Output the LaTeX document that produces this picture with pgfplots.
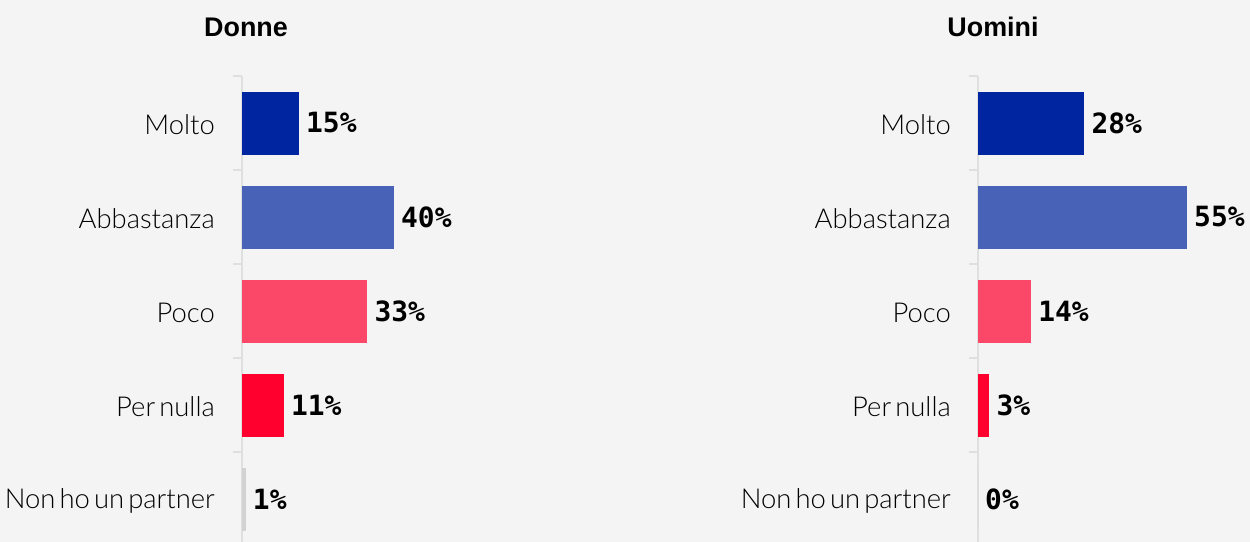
\documentclass[border=0pt]{standalone}
\usepackage{pgfplots}
\pgfplotsset{compat=1.18}
\usepackage{fontspec}
\setmainfont{Liberation Sans}
\setmonofont{DejaVu Sans Mono}
\newfontfamily\lightfont{Lato}[UprightFont=* Light]
\protected\def\lblfont{\lightfont\fontsize{27.5}{30}\selectfont\spaceskip=0.15em\relax}
\definecolor{bg}{HTML}{F4F4F4}
\definecolor{c1}{HTML}{0025A0}
\definecolor{c2}{HTML}{4862B7}
\definecolor{c3}{HTML}{FB4868}
\definecolor{c4}{HTML}{FF002E}
\definecolor{c5}{HTML}{D2D2D2}
\definecolor{axisgray}{HTML}{DFDFDF}

\pgfplotsset{
  panel/.style={
    xbar, bar shift=0pt, bar width=63bp,
    scale only axis, width=228bp, height=466bp,
    xmin=0, xmax=60, ymin=-0.5, ymax=4.457, y dir=reverse,
    axis x line=none, axis y line*=left,
    y axis line style={draw=axisgray, line width=1.2bp},
    ytick={0,...,4},
    yticklabels={Molto,Abbastanza,Poco,Per nulla,Non ho un partner},
    major tick length=0pt,
    minor ytick={-0.5,0.5,1.5,2.5,3.5},
    minor tick length=9bp,
    tick align=outside,
    minor tick style={draw=axisgray, line width=1.2bp},
    yticklabel style={font=\lblfont,
      inner sep=0pt, anchor=east, xshift=-27bp, yshift=-2bp},
    clip=false,
    point meta=x,
    nodes near coords={\pgfmathprintnumber{\pgfplotspointmeta}\%},
    nodes near coords style={font=\fontsize{28}{32}\selectfont\ttfamily\bfseries,
      anchor=west, inner sep=0pt, xshift=7bp, text=black},
    /pgf/number format/assume math mode=true,
  }
}

\begin{document}
\begin{tikzpicture}
\path[use as bounding box, fill=bg] (0,0) rectangle (1250bp,542bp);

% Donne
\begin{axis}[panel, at={(242bp,0bp)}, anchor=south west]
\addplot[fill=c1, draw=none] coordinates {(15,0)};
\addplot[fill=c2, draw=none] coordinates {(40,1)};
\addplot[fill=c3, draw=none] coordinates {(33,2)};
\addplot[fill=c4, draw=none] coordinates {(11,3)};
\addplot[fill=c5, draw=none] coordinates {(1,4)};
\end{axis}

% Uomini
\begin{axis}[panel, at={(978bp,0bp)}, anchor=south west]
\addplot[fill=c1, draw=none] coordinates {(28,0)};
\addplot[fill=c2, draw=none] coordinates {(55,1)};
\addplot[fill=c3, draw=none] coordinates {(14,2)};
\addplot[fill=c4, draw=none] coordinates {(3,3)};
\addplot[fill=c5, draw=none] coordinates {(0,4)};
\end{axis}

\node[font=\fontsize{27}{30}\selectfont\bfseries] at (246bp,515bp) {Donne};
\node[font=\fontsize{27}{30}\selectfont\bfseries] at (993bp,515bp) {Uomini};
\end{tikzpicture}
\end{document}
